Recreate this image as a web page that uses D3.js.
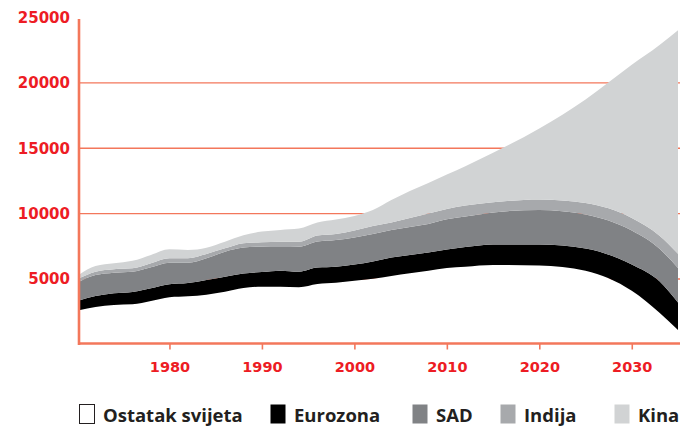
<!DOCTYPE html>
<html>
<head>
<meta charset="utf-8">
<script src="https://cdn.jsdelivr.net/npm/d3@7"></script>
<style>
  body { margin: 0; background: #fff; }
  svg { display: block; }
</style>
</head>
<body>
<svg id="chart" width="683" height="427"></svg>
<script>
// years
const years = [1970, 1972, 1974, 1976, 1978, 1980, 1982, 1984, 1986, 1988, 1990, 1992, 1994, 1996,
  1998, 2000, 2002, 2004, 2006, 2008, 2010, 2012, 2015, 2020, 2025, 2030, 2033, 2035];

// series values, bottom to top
const ostatak = [2570, 2850, 3010, 3060, 3310, 3600, 3670, 3800, 4020, 4310, 4410, 4410, 4360, 4610,
  4710, 4870, 5020, 5230, 5430, 5630, 5840, 5940, 6070, 6030, 5630, 4100, 2420, 1090];
const eurozona = [740, 840, 890, 940, 970, 990, 1020, 1120, 1150, 1100, 1120, 1220, 1190, 1260,
  1220, 1230, 1320, 1410, 1400, 1390, 1410, 1500, 1570, 1610, 1700, 2000, 2400, 2100];
const sad = [1400, 1610, 1580, 1550, 1610, 1650, 1550, 1660, 1910, 1990, 1940, 1810, 1910, 1990,
  2040, 2070, 2100, 2100, 2140, 2180, 2310, 2330, 2450, 2640, 2600, 2600, 2490, 2640];
const indija = [260, 250, 260, 260, 310, 340, 340, 330, 260, 330, 340, 410, 380, 460,
  460, 540, 610, 570, 690, 800, 790, 840, 770, 800, 870, 960, 1000, 1100];
const kina = [250, 440, 460, 580, 640, 690, 640, 480, 510, 610, 810, 900, 1010, 1000,
  1110, 1110, 1220, 1720, 2060, 2330, 2640, 3020, 3790, 5430, 7930, 11720, 14580, 17100];

const seriesNames = ['Ostatak svijeta', 'Eurozona', 'SAD', 'Indija', 'Kina'];
const seriesValues = [ostatak, eurozona, sad, indija, kina];
const seriesColors = ['#ffffff', '#000000', '#808285', '#a7a9ac', '#d1d3d4'];

const xTicks = [1980, 1990, 2000, 2010, 2020, 2030];
const yTicks = [5000, 10000, 15000, 20000, 25000];

const axisColor = '#f3775b';
const labelColor = '#ed1c24';

const svg = d3.select('#chart');

// build rows for d3.stack
const rows = years.map((yr, i) => {
  const row = { year: yr };
  seriesNames.forEach((name, j) => { row[name] = seriesValues[j][i]; });
  return row;
});

const x = d3.scaleLinear().domain([1970, 2035]).range([77, 678]);
const y = d3.scaleLinear().domain([0, 25000]).range([344.3, 17.5]);

const stacked = d3.stack().keys(seriesNames)(rows);

svg.append('defs').append('clipPath').attr('id', 'plot-clip')
  .append('rect').attr('x', 79).attr('y', 0).attr('width', 600).attr('height', 344);

// gridlines (behind the areas)
svg.append('g')
  .selectAll('line')
  .data(yTicks.filter(d => d < 25000))
  .enter()
  .append('line')
  .attr('x1', 79).attr('x2', 680)
  .attr('y1', d => y(d)).attr('y2', d => y(d))
  .attr('stroke', axisColor)
  .attr('stroke-width', 1.4);

// stacked areas
const area = d3.area()
  .x(d => x(d.data.year))
  .y0(d => y(d[0]))
  .y1(d => y(d[1]))
  .curve(d3.curveMonotoneX);

svg.append('g')
  .attr('clip-path', 'url(#plot-clip)')
  .selectAll('path')
  .data(stacked)
  .enter()
  .append('path')
  .attr('d', area)
  .attr('fill', (d, i) => seriesColors[i]);

// x axis
const xAxis = svg.append('g')
  .attr('transform', 'translate(0,343.5)')
  .call(d3.axisBottom(x).tickValues(xTicks).tickFormat(d3.format('d')).tickSize(6).tickPadding(12));
xAxis.select('.domain').remove();
xAxis.append('line')
  .attr('x1', 78).attr('x2', 680).attr('y1', 0).attr('y2', 0)
  .attr('stroke', axisColor).attr('stroke-width', 2.6);
xAxis.selectAll('.tick line').attr('stroke', axisColor).attr('stroke-width', 1.6);
xAxis.selectAll('.tick text')
  .attr('fill', labelColor)
  .style('font-family', 'DejaVu Sans')
  .style('font-weight', 700)
  .style('font-size', '14.5px');

// y axis
const yAxis = svg.append('g')
  .attr('transform', 'translate(79,0)')
  .call(d3.axisLeft(y).tickValues(yTicks).tickFormat(d3.format('d')).tickSize(0).tickPadding(9));
yAxis.select('.domain').remove();
yAxis.append('line')
  .attr('x1', 0).attr('x2', 0).attr('y1', 19).attr('y2', 345)
  .attr('stroke', axisColor).attr('stroke-width', 2.6);
yAxis.selectAll('.tick text')
  .attr('fill', labelColor)
  .style('font-family', 'DejaVu Sans')
  .style('font-weight', 700)
  .style('font-size', '15px');

// legend
const legendX = [79, 270, 412, 500, 614];
const legend = svg.append('g').attr('transform', 'translate(0,404)');
const item = legend.selectAll('g')
  .data(seriesNames)
  .enter()
  .append('g')
  .attr('transform', (d, i) => `translate(${legendX[i]},0)`);

item.append('rect')
  .attr('x', 0.5).attr('y', 0.5)
  .attr('width', 15).attr('height', 19)
  .attr('fill', (d, i) => seriesColors[i])
  .attr('stroke', (d, i) => i === 0 ? '#231f20' : 'none')
  .attr('stroke-width', 1);

item.append('text')
  .attr('x', 24)
  .attr('y', 18)
  .text(d => d)
  .attr('fill', '#231f20')
  .style('font-family', 'Open Sans')
  .style('font-weight', 700)
  .style('font-size', '18.5px');
</script>
</body>
</html>
